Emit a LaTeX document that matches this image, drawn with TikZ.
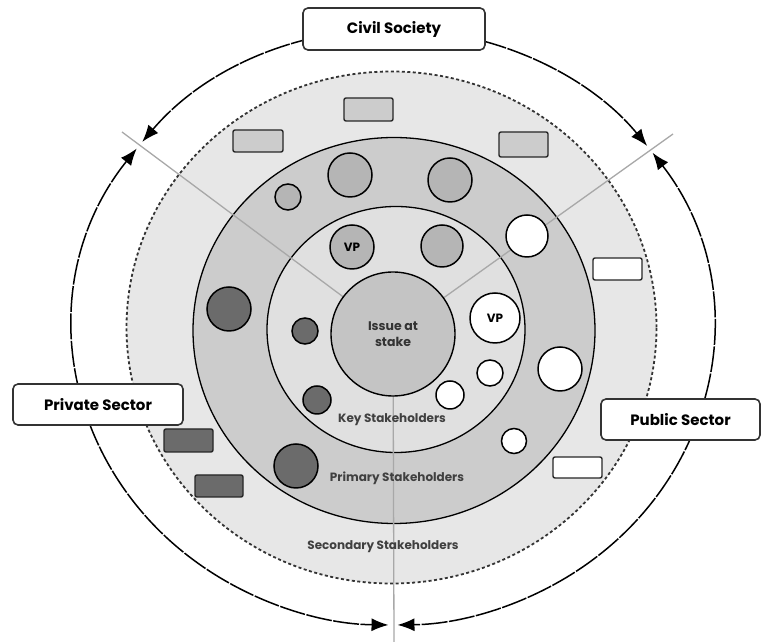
\documentclass[tikz,border=0pt]{standalone}
\usepackage{fontspec}
\setmainfont{Poppins}
\usetikzlibrary{arrows.meta,calc}
\definecolor{secfill}{HTML}{E7E7E7}
\definecolor{prifill}{HTML}{CCCCCC}
\definecolor{keyfill}{HTML}{E0E0E0}
\definecolor{issuefill}{HTML}{C4C4C4}
\definecolor{midgray}{HTML}{B5B5B5}
\definecolor{darkfill}{HTML}{6B6B6B}
\definecolor{spokegray}{HTML}{A8A8A8}
\begin{document}
\begin{tikzpicture}[x=1pt,y=1pt,
  stk/.style={circle, draw=black, line width=1.5pt, inner sep=0pt},
  gcirc/.style={stk, fill=midgray},
  dcirc/.style={stk, fill=darkfill},
  wcirc/.style={stk, fill=white},
  rbox/.style={rectangle, rounded corners=2pt, draw=black!85, line width=1.4pt, inner sep=0pt},
  lbox/.style={rectangle, rounded corners=5pt, draw=black!80, line width=1.6pt, fill=white, inner sep=0pt, font=\bfseries\fontsize{15}{17}\selectfont},
  ringlabel/.style={font=\bfseries\fontsize{12}{14}\selectfont, text=black!75},
  vplabel/.style={font=\bfseries\fontsize{12}{13}\selectfont},
  bigtip/.tip={Latex[length=17pt,width=13pt]},
  outerarc/.style={line width=1.5pt, dash pattern=on 26pt off 1.5pt, bigtip-bigtip},
  spoke/.style={draw=spokegray, line width=1.3pt}
]
\useasboundingbox (0,0) rectangle (763,642);

% rings
\fill[secfill] (391.5,314.5) ellipse[x radius=265pt, y radius=256pt];
\draw[line width=1.8pt, dash pattern=on 3pt off 2.5pt, black!80] (391.5,314.5) ellipse[x radius=265pt, y radius=256pt];
\filldraw[fill=prifill, draw=black, line width=1.3pt] (394,311.5) ellipse[x radius=201pt, y radius=193pt];
\filldraw[fill=keyfill, draw=black, line width=1.3pt] (396,312.5) ellipse[x radius=129pt, y radius=123pt];

% spokes
\coordinate (IC) at (393,308);
\coordinate (sL) at (122,510);
\coordinate (sR) at (673,508);
\coordinate (sB) at (394,0);
\draw[spoke] (IC) -- (sL);
\draw[spoke] (IC) -- (sR);
\draw[spoke] (IC) -- (sB);

% issue
\node[circle, draw=black, line width=1.4pt, fill=issuefill, minimum size=124pt, inner sep=0pt,
      align=center, text=black!80, font=\bfseries\fontsize{12.5}{16}\selectfont] (issue) at (IC) {Issue at\\stake};

% primary ring circles
\node[gcirc, minimum size=26pt] (g1) at (288,445) {};
\node[gcirc, minimum size=44pt] (g2) at (350,467) {};
\node[gcirc, minimum size=44pt] (g3) at (450,462) {};
\node[dcirc, minimum size=44pt] (d1) at (229,333) {};
\node[dcirc, minimum size=44pt] (d2) at (296,176) {};
\node[wcirc, minimum size=44pt] (w1) at (560,273) {};
\node[wcirc, minimum size=42pt] (w2) at (527,406) {};
\node[wcirc, minimum size=25pt] (w3) at (514,201) {};
% key ring circles
\node[gcirc, minimum size=44pt, vplabel] (vp1) at (352,395) {VP};
\node[gcirc, minimum size=42pt] (g4) at (442,396) {};
\node[wcirc, minimum size=50pt, vplabel] (vp2) at (495,324) {VP};
\node[wcirc, minimum size=26pt] (w4) at (490,269) {};
\node[wcirc, minimum size=28pt] (w5) at (450,247) {};
\node[dcirc, minimum size=26pt] (d3) at (305,311) {};
\node[dcirc, minimum size=28pt] (d4) at (317,242) {};

% secondary rectangles
\node[rbox, fill=prifill, minimum width=49pt, minimum height=23pt] (r1) at (368.5,532.5) {};
\node[rbox, fill=prifill, minimum width=50pt, minimum height=22pt] (r2) at (258,501) {};
\node[rbox, fill=prifill, minimum width=49pt, minimum height=25pt] (r3) at (523.5,497.5) {};
\node[rbox, fill=white, minimum width=49pt, minimum height=22pt] (r4) at (617.5,373) {};
\node[rbox, fill=white, minimum width=49pt, minimum height=21pt] (r5) at (577.5,174.5) {};
\node[rbox, fill=darkfill, minimum width=49pt, minimum height=23pt] (r6) at (188.5,201.5) {};
\node[rbox, fill=darkfill, minimum width=48pt, minimum height=22pt] (r7) at (219,156) {};

% ring labels
\node[ringlabel] (lk) at (392,222) {Key Stakeholders};
\node[ringlabel] (lp) at (397,164) {Primary Stakeholders};
\node[ringlabel] (ls) at (383,95) {Secondary Stakeholders};

% outer arcs
\coordinate (O) at (393,315);
\coordinate (a1) at ($(O)+(141.6:320 and 298)$);
\coordinate (a2) at ($(O)+(143.2:320 and 298)$);
\coordinate (a4) at ($(O)+(35.8:320 and 298)$);
\draw[outerarc] (a1) arc[start angle=141.6, end angle=37.4, x radius=320pt, y radius=298pt];
\draw[outerarc] (a2) arc[start angle=143.2, end angle=269.2, x radius=320pt, y radius=298pt];
\draw[outerarc] (a4) arc[start angle=35.8, end angle=-89.2, x radius=320pt, y radius=298pt];

% sector boxes
\node[lbox, minimum width=182pt, minimum height=42pt] (civil) at (394,613) {Civil Society};
\node[lbox, minimum width=170pt, minimum height=41pt] (private) at (98,237.5) {Private Sector};
\node[lbox, minimum width=159pt, minimum height=41pt] (public) at (680.5,222.5) {Public Sector};
\end{tikzpicture}
\end{document}
